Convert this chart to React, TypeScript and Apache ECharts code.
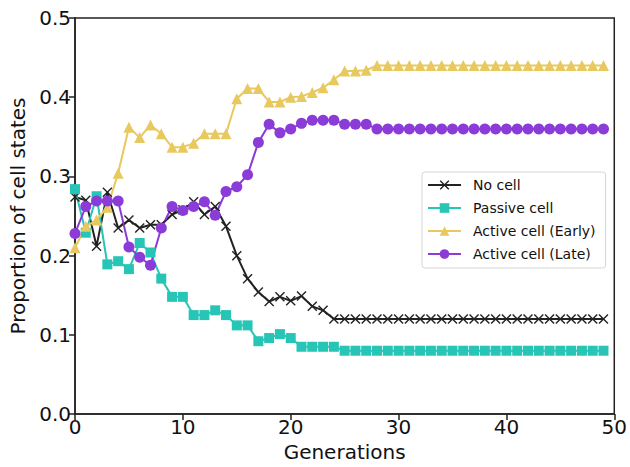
import React, { useEffect, useRef } from "react";
import * as echarts from "echarts";

const generations = [
  0, 1, 2, 3, 4, 5, 6, 7, 8, 9, 10, 11, 12, 13, 14, 15, 16, 17, 18, 19, 20, 21, 22, 23, 24,
  25, 26, 27, 28, 29, 30, 31, 32, 33, 34, 35, 36, 37, 38, 39, 40, 41, 42, 43, 44, 45, 46, 47, 48, 49,
];

const noCell = [
  0.274, 0.27, 0.212, 0.28, 0.235, 0.245, 0.235, 0.239, 0.239, 0.252, 0.258, 0.268, 0.252, 0.262, 0.237,
  0.2, 0.171, 0.154, 0.142, 0.148, 0.143, 0.149, 0.136, 0.131, 0.12, 0.12, 0.12, 0.12, 0.12, 0.12,
  0.12, 0.12, 0.12, 0.12, 0.12, 0.12, 0.12, 0.12, 0.12, 0.12, 0.12, 0.12, 0.12, 0.12, 0.12,
  0.12, 0.12, 0.12, 0.12, 0.12,
];

const passiveCell = [
  0.284, 0.229, 0.275, 0.189, 0.193, 0.183, 0.216, 0.204, 0.171, 0.148, 0.148, 0.125, 0.125, 0.131, 0.125,
  0.112, 0.112, 0.092, 0.096, 0.101, 0.096, 0.085, 0.085, 0.085, 0.085, 0.08, 0.08, 0.08, 0.08, 0.08,
  0.08, 0.08, 0.08, 0.08, 0.08, 0.08, 0.08, 0.08, 0.08, 0.08, 0.08, 0.08, 0.08, 0.08, 0.08,
  0.08, 0.08, 0.08, 0.08, 0.08,
];

const activeEarly = [
  0.21, 0.237, 0.245, 0.261, 0.304, 0.362, 0.349, 0.365, 0.354, 0.337, 0.337, 0.342, 0.354, 0.354, 0.354,
  0.398, 0.411, 0.411, 0.394, 0.394, 0.4, 0.401, 0.406, 0.412, 0.422, 0.433, 0.433, 0.434, 0.44, 0.44,
  0.44, 0.44, 0.44, 0.44, 0.44, 0.44, 0.44, 0.44, 0.44, 0.44, 0.44, 0.44, 0.44, 0.44, 0.44,
  0.44, 0.44, 0.44, 0.44, 0.44,
];

const activeLate = [
  0.228, 0.262, 0.269, 0.269, 0.269, 0.211, 0.198, 0.188, 0.235, 0.262, 0.257, 0.262, 0.268, 0.251, 0.281,
  0.287, 0.302, 0.343, 0.366, 0.355, 0.36, 0.367, 0.371, 0.371, 0.371, 0.366, 0.366, 0.366, 0.36, 0.36,
  0.36, 0.36, 0.36, 0.36, 0.36, 0.36, 0.36, 0.36, 0.36, 0.36, 0.36, 0.36, 0.36, 0.36, 0.36,
  0.36, 0.36, 0.36, 0.36, 0.36,
];

const seriesNames = ["No cell", "Passive cell", "Active cell (Early)", "Active cell (Late)"];
const seriesColors = ["#222222", "#27c5b5", "#e8c95f", "#8b3bd8"];

const X_SYMBOL = "path://M0,1L1,0L5,4L9,0L10,1L6,5L10,9L9,10L5,6L1,10L0,9L4,5Z";
const FONT = "DejaVu Sans";

export default function App() {
  const ref = useRef<HTMLDivElement>(null);

  useEffect(() => {
    if (!ref.current) return;
    const chart = echarts.init(ref.current, undefined, { renderer: "svg" });
    const allData = [noCell, passiveCell, activeEarly, activeLate];
    const symbols = [X_SYMBOL, "rect", "triangle", "circle"];
    const sizes = [10, 10, 11, 11];

    chart.setOption({
      animation: false,
      backgroundColor: "#ffffff",
      grid: {
        left: 75,
        right: 13,
        top: 18,
        bottom: 48.5,
        show: true,
        borderColor: "#222",
        borderWidth: 1.5,
        backgroundColor: "transparent",
      },
      legend: {
        orient: "vertical",
        left: 422,
        top: 172,
        data: seriesNames,
        itemWidth: 33,
        itemHeight: 12,
        itemGap: 9,
        padding: [6, 10, 7, 5],
        backgroundColor: "#fff",
        borderColor: "#d6d6d6",
        borderWidth: 1,
        borderRadius: 3,
        textStyle: { fontFamily: FONT, fontSize: 14, color: "#111", padding: [0, 0, 0, 7] },
      },
      xAxis: {
        type: "value",
        min: 0,
        max: 50,
        interval: 10,
        name: "Generations",
        nameLocation: "middle",
        nameGap: 23,
        nameTextStyle: { fontFamily: FONT, fontSize: 20, color: "#111" },
        axisLine: { show: true, lineStyle: { color: "#222", width: 1.5 } },
        axisTick: { show: true, inside: false, length: 6, lineStyle: { color: "#222", width: 1.5 } },
        axisLabel: { fontFamily: FONT, fontSize: 20, color: "#111", margin: 3 },
        splitLine: { show: false },
      },
      yAxis: {
        type: "value",
        min: 0,
        max: 0.5,
        interval: 0.1,
        name: "Proportion of cell states",
        nameLocation: "middle",
        nameGap: 44,
        nameTextStyle: { fontFamily: FONT, fontSize: 20, color: "#111" },
        axisLine: { show: true, lineStyle: { color: "#222", width: 1.5 } },
        axisTick: { show: true, inside: false, length: 6, lineStyle: { color: "#222", width: 1.5 } },
        axisLabel: {
          fontFamily: FONT,
          fontSize: 20,
          color: "#111",
          margin: 4,
          formatter: (v: number) => v.toFixed(1),
        },
        splitLine: { show: false },
      },
      series: allData.map((d, k) => ({
        name: seriesNames[k],
        type: "line",
        data: d.map((v, i) => [generations[i], v]),
        symbol: symbols[k],
        symbolSize: sizes[k],
        showAllSymbol: true,
        clip: false,
        lineStyle: { color: seriesColors[k], width: 2 },
        itemStyle: { color: seriesColors[k], borderWidth: 0 },
        emphasis: { disabled: true },
      })),
    });
    return () => chart.dispose();
  }, []);

  return (
    <div
      ref={ref}
      style={{ position: "fixed", left: 0, top: 0, width: 630, height: 467, background: "#fff" }}
    />
  );
}
